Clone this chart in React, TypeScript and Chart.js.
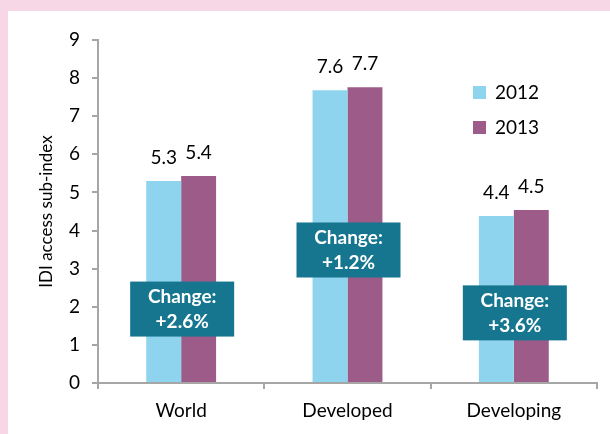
import React, { useEffect, useRef } from "react";
import { Chart, registerables } from "chart.js";

Chart.register(...registerables);

const categories = ["World", "Developed", "Developing"];
const seriesNames = ["2012", "2013"];
const values2012 = [5.3, 7.68, 4.38];
const values2013 = [5.43, 7.76, 4.54];
const labels2012 = ["5.3", "7.6", "4.4"];
const labels2013 = ["5.4", "7.7", "4.5"];
const changeTexts = ["+2.6%", "+1.2%", "+3.6%"];
const changeCenters = [1.94, 3.49, 1.84];
const yMin = 0;
const yMax = 9;

const FONT = "Lato, 'Open Sans', sans-serif";
const C2012 = "#8ED4EE";
const C2013 = "#9C5B89";
const TEAL = "#16768F";
const GREY = "#A6A6A6";
const PINK = "#F7D7E6";

const overlayPlugin = {
  id: "overlay",
  beforeDraw(chart: any) {
    const ctx = chart.ctx;
    ctx.save();
    ctx.fillStyle = PINK;
    ctx.fillRect(0, 0, chart.width, chart.height);
    ctx.fillStyle = "#FFFFFF";
    ctx.fillRect(8, 11, chart.width - 8, chart.height - 11);
    ctx.restore();
  },
  afterDatasetsDraw(chart: any) {
    const ctx = chart.ctx;
    const xs = chart.scales.x;
    const ys = chart.scales.y;
    ctx.save();
    const labelSets = [labels2012, labels2013];
    ctx.font = `19px ${FONT}`;
    ctx.fillStyle = "#000";
    ctx.textAlign = "center";
    ctx.textBaseline = "middle";
    labelSets.forEach((labs, di) => {
      const meta = chart.getDatasetMeta(di);
      meta.data.forEach((bar: any, i: number) => {
        ctx.fillText(labs[i], bar.x, bar.y - 23);
      });
    });
    const bw = 104;
    const bh = 55;
    categories.forEach((_, i) => {
      const cx = xs.getPixelForValue(i) + 1;
      const cy = ys.getPixelForValue(changeCenters[i]);
      ctx.fillStyle = TEAL;
      ctx.fillRect(cx - bw / 2, cy - bh / 2, bw, bh);
      ctx.fillStyle = "#FFFFFF";
      ctx.font = `bold 19px ${FONT}`;
      ctx.fillText("Change:", cx, cy - 12);
      ctx.fillText(changeTexts[i], cx, cy + 13);
    });
    const colors = [C2012, C2013];
    const ly = [92, 127];
    ctx.textAlign = "left";
    ctx.font = `19px ${FONT}`;
    seriesNames.forEach((name, i) => {
      ctx.fillStyle = colors[i];
      ctx.fillRect(473, ly[i] - 6, 13, 13);
      ctx.fillStyle = "#000";
      ctx.fillText(name, 495, ly[i] + 1);
    });
    ctx.restore();
  },
};

export default function App() {
  const ref = useRef<HTMLCanvasElement | null>(null);
  useEffect(() => {
    if (!ref.current) return;
    const chart = new Chart(ref.current, {
      type: "bar",
      data: {
        labels: categories,
        datasets: [
          {
            label: seriesNames[0],
            data: values2012,
            backgroundColor: C2012,
            categoryPercentage: 0.42,
            barPercentage: 1.0,
          },
          {
            label: seriesNames[1],
            data: values2013,
            backgroundColor: C2013,
            categoryPercentage: 0.42,
            barPercentage: 1.0,
          },
        ],
      },
      options: {
        responsive: false,
        animation: false,
        devicePixelRatio: 1,
        layout: { padding: { top: 40, right: 13, left: 0, bottom: 0 } },
        plugins: {
          legend: { display: false },
          tooltip: { enabled: false },
        },
        scales: {
          x: {
            grid: {
              drawOnChartArea: false,
              drawTicks: true,
              tickLength: 6,
              color: GREY,
              lineWidth: 2,
            },
            border: { color: GREY, width: 2 },
            ticks: {
              color: "#000",
              font: { family: FONT, size: 19 },
              padding: 10,
            },
            afterFit(scale: any) {
              scale.height = 51;
            },
          },
          y: {
            min: yMin,
            max: yMax,
            grid: {
              drawOnChartArea: false,
              drawTicks: true,
              tickLength: 6,
              color: GREY,
              lineWidth: 2,
            },
            border: { color: GREY, width: 2 },
            ticks: {
              stepSize: 1,
              color: "#000",
              font: { family: FONT, size: 19 },
              padding: 12,
            },
            title: {
              display: true,
              text: "IDI access sub-index",
              color: "#000",
              font: { family: FONT, size: 17, lineHeight: 1.2 },
              padding: { top: 36, bottom: 0 },
            },
            afterFit(scale: any) {
              scale.width = 98;
            },
          },
        },
      },
      plugins: [overlayPlugin],
    });
    return () => chart.destroy();
  }, []);
  return (
    <canvas
      ref={ref}
      width={610}
      height={434}
      style={{ position: "fixed", left: 0, top: 0, width: 610, height: 434, display: "block" }}
    />
  );
}
